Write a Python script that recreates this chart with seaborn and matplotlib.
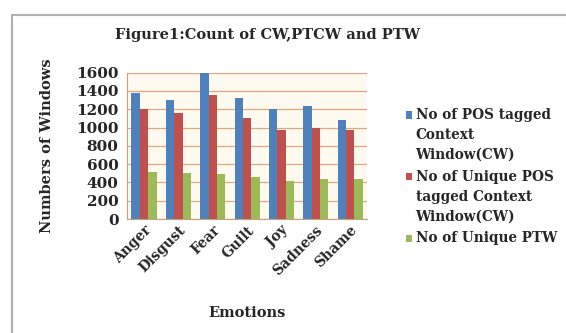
import matplotlib
matplotlib.use("Agg")
from matplotlib import pyplot as plt
import seaborn as sns
import pandas as pd

emotions = ['Anger', 'Disgust', 'Fear', 'Guilt', 'Joy', 'Sadness', 'Shame']
pos_cw = [1380, 1300, 1600, 1320, 1200, 1240, 1080]
unique_pos_cw = [1200, 1160, 1350, 1100, 970, 990, 970]
unique_ptw = [510, 500, 490, 460, 420, 440, 440]
series_names = ['No of POS tagged\nContext\nWindow(CW)',
                'No of Unique POS\ntagged Context\nWindow(CW)',
                'No of Unique PTW']

df = pd.DataFrame({
    'Emotions': emotions * 3,
    'count': pos_cw + unique_pos_cw + unique_ptw,
    'series': [series_names[0]] * 7 + [series_names[1]] * 7 + [series_names[2]] * 7,
})

sns.set_style("white")
plt.rcParams['font.family'] = ['DejaVu Serif', 'Liberation Serif']
plt.rcParams['font.weight'] = 'bold'

fig = plt.figure(figsize=(5.66, 3.33), dpi=100)
ax = fig.add_axes([0.224, 0.342, 0.425, 0.44])

# chart frame (cut off at right and bottom like the screenshot)
fig.patches.append(plt.Rectangle((0.022, -0.1), 1.2, 1.055, transform=fig.transFigure,
                                 fill=False, edgecolor='#b0b0b0', lw=1.5))

colors = ['#4F81BD', '#C0504D', '#9BBB59']
sns.barplot(data=df, x='Emotions', y='count', hue='series', palette=colors,
            width=0.73, gap=0.0, ax=ax, edgecolor='none', saturation=1)

ax.set_facecolor('#fffaf0')
ax.set_ylim(0, 1600)
ax.set_yticks(range(0, 1601, 200))
ax.yaxis.grid(True, color='#e2a77e', lw=0.9)
ax.set_axisbelow(True)
for s in ['top', 'right']:
    ax.spines[s].set_visible(False)
ax.spines['left'].set_color('#c8a07e')
ax.spines['bottom'].set_color('#c8a07e')

ax.tick_params(axis='y', labelsize=11, pad=6, length=0)
ax.tick_params(axis='x', labelsize=10, length=0, pad=3)
for lab in ax.get_xticklabels():
    lab.set_rotation(45)
    lab.set_ha('right')
    lab.set_rotation_mode('anchor')
    lab.set_fontweight('bold')
for lab in ax.get_yticklabels():
    lab.set_fontweight('bold')

ax.set_xlabel('Emotions', fontsize=10.5, fontweight='bold', labelpad=20)
ax.set_ylabel('Numbers of Windows', fontsize=10.5, fontweight='bold', labelpad=16)
fig.text(0.472, 0.895, 'Figure1:Count of CW,PTCW and PTW', ha='center', va='center',
         fontsize=10.5, fontweight='bold')

leg = ax.legend(loc='center left', bbox_to_anchor=(1.11, 0.29), frameon=False,
                handlelength=0.45, handleheight=0.45, handletextpad=0.25,
                labelspacing=0.55, prop={'weight': 'bold', 'size': 9.8})
leg.set_title(None)
for t in leg.get_texts():
    t.set_linespacing(1.55)

# put each legend marker next to the first line of its label
fig.canvas.draw()
texts = leg.get_texts()
line_h = texts[-1].get_window_extent().height
for h, t in zip(leg.legend_handles, texts):
    tb = t.get_window_extent()
    hb = h.get_window_extent()
    target = tb.y1 - line_h / 2
    shift = (target - (hb.y0 + hb.y1) / 2) * 72 / fig.dpi
    h.set_y(h.get_y() + shift)

fig.savefig('out.png', dpi=100)
